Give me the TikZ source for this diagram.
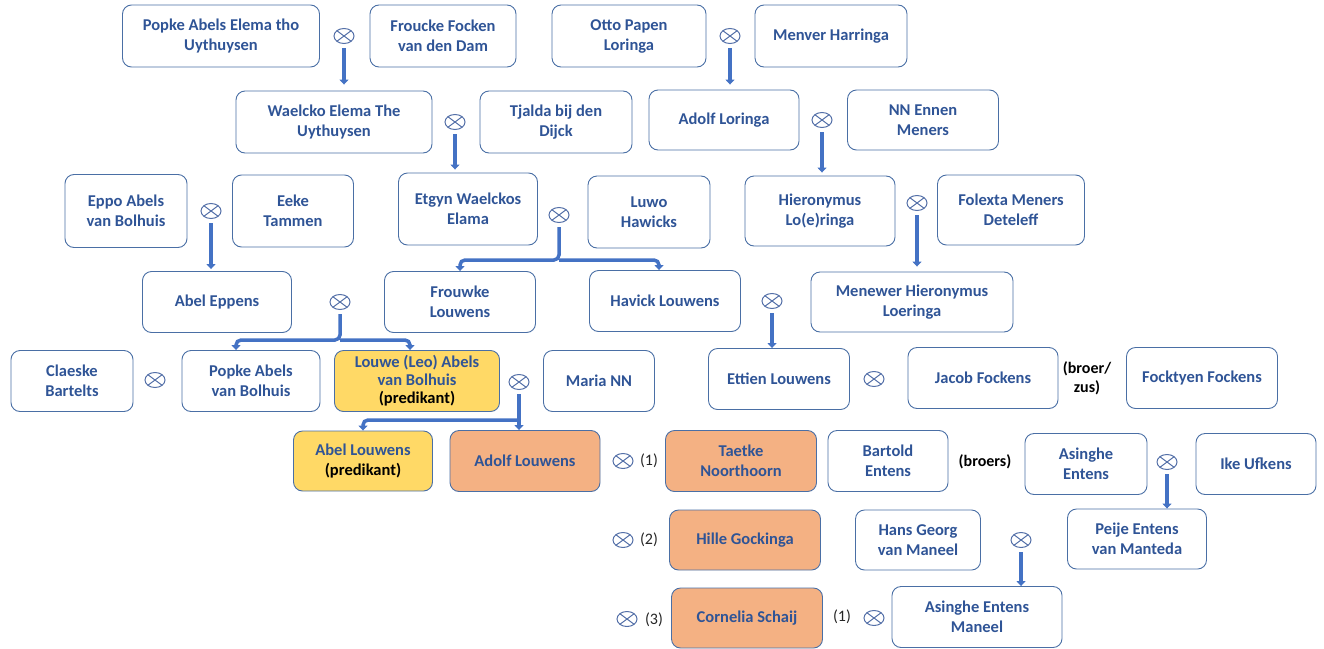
\documentclass[tikz,border=0pt]{standalone}
\usepackage{fontspec}
\setmainfont{Carlito}
\usetikzlibrary{arrows.meta,shapes.geometric}
\definecolor{boxline}{HTML}{4A6FA5}
\definecolor{namecol}{HTML}{2F5496}
\definecolor{arrcol}{HTML}{4472C4}
\definecolor{marcol}{HTML}{5470A8}
\definecolor{preyel}{HTML}{FFD966}
\definecolor{adorg}{HTML}{F4B183}
\begin{document}
\begin{tikzpicture}[x=1pt,y=-1pt,
    person/.style={draw=boxline,line width=0.9pt,rounded corners=9pt,align=center,text=namecol,
      font=\fontsize{16.5}{20}\selectfont\bfseries,minimum height=61pt,inner sep=1pt},
    marr/.style={ellipse,draw=marcol,line width=1pt,minimum width=20pt,minimum height=15pt,inner sep=0pt,
      path picture={\draw[marcol,line width=1pt]
        ([shift={(-7.1pt,-5.3pt)}]path picture bounding box.center) -- ([shift={(7.1pt,5.3pt)}]path picture bounding box.center)
        ([shift={(-7.1pt,5.3pt)}]path picture bounding box.center) -- ([shift={(7.1pt,-5.3pt)}]path picture bounding box.center);}},
    note/.style={font=\fontsize{16}{19}\selectfont,text=black!85,align=center},
    arr/.style={draw=arrcol,line width=3.5pt,-{Triangle[length=5pt,width=9pt]},shorten <=4pt}]
  \useasboundingbox (0,0) rectangle (1324,648);
  % generation 1
  \node[person,minimum width=197pt,minimum height=62pt] (popkeelema) at (221,36) {Popke Abels Elema tho\\Uythuysen};
  \node[marr] (m1) at (344,36) {};
  \node[person,minimum width=146pt,minimum height=62pt] (froucke) at (443,36) {Froucke Focken\\van den Dam};
  \node[person,minimum width=154pt,minimum height=62pt] (otto) at (629,36) {Otto Papen\\Loringa};
  \node[marr] (m2) at (730,36) {};
  \node[person,minimum width=152pt,minimum height=62pt] (menver) at (831,36) {Menver Harringa};
  % generation 2
  \node[person,minimum width=196pt,minimum height=62pt] (waelcko) at (334,122) {Waelcko Elema The\\Uythuysen};
  \node[marr] (m3) at (455,122) {};
  \node[person,minimum width=152pt,minimum height=62pt] (tjalda) at (556,122) {Tjalda bij den\\Dijck};
  \node[person,minimum width=150pt,minimum height=60pt] (adolfl) at (724,120) {Adolf Loringa};
  \node[marr] (m4) at (822,120) {};
  \node[person,minimum width=151pt,minimum height=60pt] (nnennen) at (923,120) {NN Ennen\\Meners};
  % generation 3
  \node[person,minimum width=122pt,minimum height=73pt] (eppo) at (126,211) {Eppo Abels\\van Bolhuis};
  \node[marr] (m5) at (211,211) {};
  \node[person,minimum width=121pt,minimum height=72pt] (eeke) at (293,211) {Eeke\\Tammen};
  \node[person,minimum width=139pt,minimum height=72pt] (etgyn) at (468,209) {Etgyn Waelckos\\Elama};
  \node[marr] (m6) at (559,215) {};
  \node[person,minimum width=122pt,minimum height=72pt] (luwo) at (649,212) {Luwo\\Hawicks};
  \node[person,minimum width=150pt,minimum height=70pt] (hieron) at (820,211) {Hieronymus\\Lo(e)ringa};
  \node[marr] (m7) at (917,203) {};
  \node[person,minimum width=147pt,minimum height=70pt] (folexta) at (1011,210) {Folexta Meners\\Deteleff};
  % generation 4
  \node[person,minimum width=149pt] (abeleppens) at (217,302) {Abel Eppens};
  \node[marr] (m8) at (340,302) {};
  \node[person,minimum width=151pt] (frouwke) at (460,302) {Frouwke\\Louwens};
  \node[person,minimum width=151pt] (havick) at (665,301) {Havick Louwens};
  \node[marr] (m9) at (772,301) {};
  \node[person,minimum width=202pt,minimum height=60pt] (menewer) at (912,302) {Menewer Hieronymus\\Loeringa};
  % generation 5
  \node[person,minimum width=122pt] (claeske) at (72,381) {Claeske\\Bartelts};
  \node[marr] (m10) at (155,380) {};
  \node[person,minimum width=138pt] (popkebol) at (251,381) {Popke Abels\\van Bolhuis};
  \node[person,fill=preyel,minimum width=165pt,font=\fontsize{16.5}{18}\selectfont\bfseries] (louwe) at (417,381)
    {Louwe (Leo) Abels\\van Bolhuis\\\textcolor{black}{(predikant)}};
  \node[marr] (m11) at (519,382) {};
  \node[person,minimum width=111pt] (maria) at (599,381) {Maria NN};
  \node[person,minimum width=141pt] (ettien) at (779,379) {Ettien Louwens};
  \node[marr] (m12) at (874,379) {};
  \node[person,minimum width=150pt] (jacob) at (983,378) {Jacob Fockens};
  \node[note,font=\fontsize{16}{19}\selectfont\bfseries,text=black] (broerzus) at (1087,378) {(broer/\\zus)};
  \node[person,minimum width=151pt] (focktyen) at (1202,378) {Focktyen Fockens};
  % generation 6
  \node[person,fill=preyel,minimum width=139pt,minimum height=60pt] (abellouwens) at (363,461) {Abel Louwens\\\textcolor{black}{(predikant)}};
  \node[person,fill=adorg,minimum width=150pt] (adolflouwens) at (525,461) {Adolf Louwens};
  \node[marr] (m13) at (623,461) {};
  \node[note] (n1) at (649,461) {(1)};
  \node[person,fill=adorg,minimum width=151pt] (taetke) at (741,461) {Taetke\\Noorthoorn};
  \node[person,minimum width=120pt] (bartold) at (888,461) {Bartold\\Entens};
  \node[note,font=\fontsize{16}{19}\selectfont\bfseries,text=black] (broers) at (985,462) {(broers)};
  \node[person,minimum width=122pt] (asinghe) at (1086,464) {Asinghe\\Entens};
  \node[marr] (m14) at (1167,462) {};
  \node[person,minimum width=120pt] (ike) at (1256,464) {Ike Ufkens};
  % generation 7
  \node[marr] (m15) at (623,540) {};
  \node[note] (n2) at (649,540) {(2)};
  \node[person,fill=adorg,minimum width=151pt,minimum height=60pt] (hille) at (745,540) {Hille Gockinga};
  \node[person,minimum width=125pt,minimum height=60pt] (hans) at (918,540) {Hans Georg\\van Maneel};
  \node[marr] (m16) at (1021,540) {};
  \node[person,minimum width=139pt,minimum height=60pt] (peije) at (1137,539) {Peije Entens\\van Manteda};
  % generation 8
  \node[marr] (m17) at (627,619) {};
  \node[note] (n3) at (654,620) {(3)};
  \node[person,fill=adorg,minimum width=151pt,minimum height=60pt] (cornelia) at (747,618) {Cornelia Schaij};
  \node[note] (n4) at (842,617) {(1)};
  \node[marr] (m18) at (874,618) {};
  \node[person,minimum width=170pt] (asinghem) at (977,617) {Asinghe Entens\\Maneel};
  % descent
  \draw[arr,shorten >=6pt] (m1.south) -- (m1 |- waelcko.north);
  \draw[arr,shorten >=5pt] (m2.south) -- (m2 |- adolfl.north);
  \draw[arr,shorten >=3pt] (m3.south) -- (m3 |- etgyn.north);
  \draw[arr,shorten >=3pt] (m4.south) -- (m4 |- hieron.north);
  \draw[arr,shorten >=2pt] (m5.south) -- (m5 |- abeleppens.north);
  \draw[arr,shorten >=5pt] (m7.south) -- (m7 |- menewer.north);
  \draw[arr] (m9.south) -- (m9 |- ettien.north);
  \draw[arr] (m14.south) -- (m14 |- peije.north);
  \draw[arr] (m16.south) -- (m16 |- asinghem.north);
  \coordinate (j6) at (559,260);
  \draw[arr,rounded corners=5pt] (m6.south) -- (j6) -| (frouwke.north);
  \draw[arr,rounded corners=5pt,shorten <=0pt] (j6) -| ([xshift=-6pt]havick.north);
  \coordinate (j8) at (340,340);
  \draw[arr,rounded corners=5pt] (m8.south) -- (j8) -| ([xshift=-15pt]popkebol.north);
  \draw[arr,rounded corners=5pt,shorten <=0pt] (j8) -| ([xshift=-7pt]louwe.north);
  \coordinate (j11) at (519,420);
  \draw[arr,rounded corners=5pt] (m11.south) -- (m11 |- adolflouwens.north);
  \draw[arr,rounded corners=5pt,shorten <=0pt] (j11) -| (abellouwens.north);
\end{tikzpicture}
\end{document}
